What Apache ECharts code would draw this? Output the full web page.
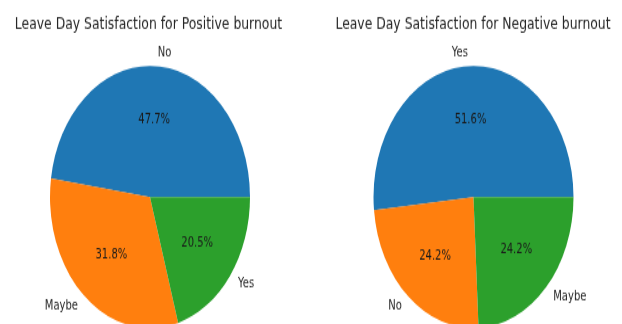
<!DOCTYPE html>
<html>
<head>
<meta charset="utf-8">
<script src="https://cdn.jsdelivr.net/npm/echarts@6/dist/echarts.min.js"></script>
<style>
  html, body { margin: 0; padding: 0; background: #fff; }
  #frame { width: 622px; height: 324px; overflow: hidden; position: relative; }
  /* the source figure is stretched vertically, so the whole chart is squashed here and stretched back */
  #main { position: absolute; left: 0; top: 0; width: 622px; height: 250px; transform: scaleY(1.3117); transform-origin: 0 0; }
</style>
</head>
<body>
<div id="frame"><div id="main"></div></div>
<script>
var titles = ['Leave Day Satisfaction for Positive burnout', 'Leave Day Satisfaction for Negative burnout'];

var positiveLabels = ['No', 'Maybe', 'Yes'];
var positiveCounts = [21, 14, 9];

var negativeLabels = ['Yes', 'No', 'Maybe'];
var negativeCounts = [32, 15, 15];

var colors = ['#1f77b4', '#ff7f0e', '#2ca02c'];
var font = 'DejaVu Sans';

function toData(labels, counts) {
    return labels.map(function (name, i) {
        return { name: name, value: counts[i], itemStyle: { color: colors[i] } };
    });
}

// one visible pie with the outside names, one see-through pie on top for the percentages
function pieSeries(center, labels, counts) {
    var data = toData(labels, counts);
    var clear = labels.map(function (name, i) {
        return { name: name, value: counts[i] };
    });
    return [
        {
            type: 'pie',
            center: center,
            radius: 100,
            startAngle: 0,
            clockwise: false,
            avoidLabelOverlap: false,
            silent: true,
            itemStyle: { borderWidth: 0 },
            label: {
                show: true,
                position: 'outside',
                formatter: '{b}',
                fontFamily: font,
                fontSize: 10,
                color: '#262626',
                distanceToLabelLine: 0
            },
            labelLine: { show: false, length: 10, length2: 0 },
            data: data
        },
        {
            type: 'pie',
            center: center,
            radius: [12, 100],
            startAngle: 0,
            clockwise: false,
            avoidLabelOverlap: false,
            silent: true,
            percentPrecision: 1,
            itemStyle: { color: 'transparent', borderWidth: 0 },
            label: {
                show: true,
                position: 'inside',
                formatter: '{d}%',
                fontFamily: font,
                fontSize: 10,
                color: '#1a1a1a'
            },
            labelLine: { show: false },
            data: clear
        }
    ];
}

var myChart = echarts.init(document.getElementById('main'), null, { renderer: 'canvas' });

myChart.setOption({
    animation: false,
    backgroundColor: '#fff',
    title: [
        {
            text: titles[0],
            left: 148.5,
            top: 12.5,
            padding: 0,
            textAlign: 'center',
            textStyle: { fontFamily: font, fontSize: 12.4, fontWeight: 'normal', color: '#262626' }
        },
        {
            text: titles[1],
            left: 473,
            top: 12.5,
            padding: 0,
            textAlign: 'center',
            textStyle: { fontFamily: font, fontSize: 12.4, fontWeight: 'normal', color: '#262626' }
        }
    ],
    series: pieSeries([150, 150.2], positiveLabels, positiveCounts)
        .concat(pieSeries([473.5, 150.2], negativeLabels, negativeCounts))
});
</script>
</body>
</html>
